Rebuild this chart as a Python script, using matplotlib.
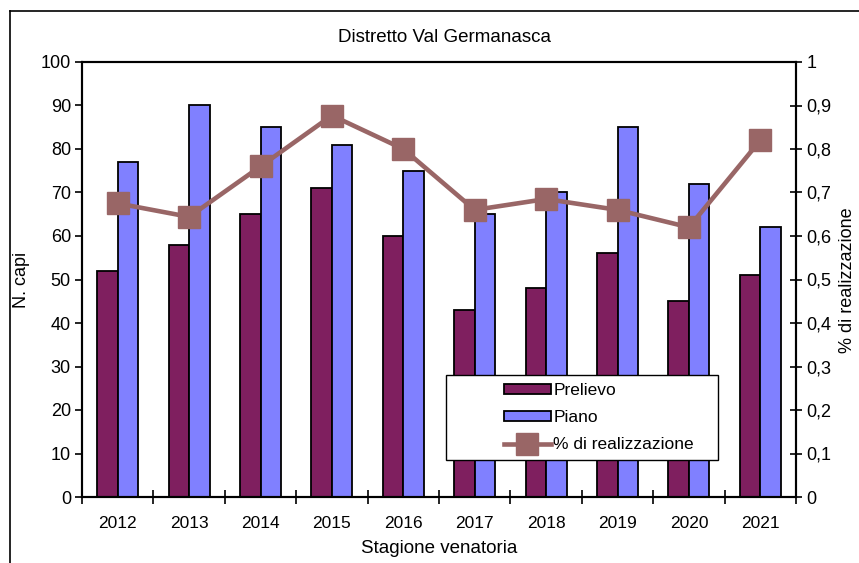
import matplotlib
matplotlib.use("Agg")
import matplotlib.pyplot as plt
import numpy as np
from matplotlib.lines import Line2D
from matplotlib.patches import Rectangle, Patch

plt.rcParams['font.family'] = ['Liberation Sans', 'DejaVu Sans']

years = ['2012', '2013', '2014', '2015', '2016', '2017', '2018', '2019', '2020', '2021']
prelievo = [52, 58, 65, 71, 60, 43, 48, 56, 45, 51]
piano = [77, 90, 85, 81, 75, 65, 70, 85, 72, 62]
realizzazione = [0.675, 0.644, 0.76, 0.877, 0.80, 0.66, 0.685, 0.66, 0.62, 0.82]

c_prel = '#7F1F5F'
c_piano = '#8080FF'
c_line = '#996666'

W, H = 859, 563
fig = plt.figure(figsize=(W / 100, H / 100), dpi=100)

def fx(px):
    return px / W

def fy(py):
    return 1 - py / H

# outer chart border (cropped on right and bottom)
fig.add_artist(Line2D([fx(10), fx(10)], [fy(11), -0.1], color='black', lw=1.2, transform=fig.transFigure))
fig.add_artist(Line2D([fx(10), 1.1], [fy(11), fy(11)], color='black', lw=1.2, transform=fig.transFigure))

left, right, top, bottom = 82, 796, 62, 497
ax = fig.add_axes([fx(left), fy(bottom), (right - left) / W, (bottom - top) / H])

x = np.arange(len(years)) + 0.5
w = 0.286
ax.bar(x - w / 2, prelievo, w, color=c_prel, edgecolor='black', linewidth=1.3, zorder=2)
ax.bar(x + w / 2, piano, w, color=c_piano, edgecolor='black', linewidth=1.3, zorder=2)

ax.set_xlim(0, len(years))
ax.set_ylim(0, 100)
ax.set_yticks(np.arange(0, 101, 10))
ax.set_xticks(np.arange(0, len(years) + 1))
ax.set_xticklabels([])
ax.set_xticks(x, minor=True)
ax.set_xticklabels(years, minor=True, fontsize=12.5)
ax.tick_params(axis='x', which='minor', length=0, pad=14)
ax.tick_params(axis='x', which='major', direction='inout', length=10, width=1.2)
ax.tick_params(axis='y', direction='out', length=5, width=1.2, labelsize=13, pad=3)
for s in ax.spines.values():
    s.set_linewidth(1.5)
ax.set_ylabel('N. capi', fontsize=13, labelpad=8)
ax.set_xlabel('Stagione venatoria', fontsize=13.5, labelpad=6)

ax2 = ax.twinx()
ax2.plot(x, realizzazione, color=c_line, lw=3.3, marker='s', markersize=16, zorder=3)
ax2.set_ylim(0, 1)
ax2.set_yticks(np.arange(0, 1.01, 0.1))
ax2.set_yticklabels(['0', '0,1', '0,2', '0,3', '0,4', '0,5', '0,6', '0,7', '0,8', '0,9', '1'])
ax2.tick_params(axis='y', direction='inout', length=9, width=1.2, labelsize=13, pad=3)
for s in ax2.spines.values():
    s.set_linewidth(1.5)

fig.text(fx(445), fy(38), 'Distretto Val Germanasca', ha='center', va='center', fontsize=13.5)
fig.text(fx(848), fy(280), '% di realizzazione', ha='center', va='center', rotation=90, fontsize=13)

# legend
fig.add_artist(Rectangle((fx(446), fy(460)), (718 - 446) / W, (460 - 375) / H,
                         transform=fig.transFigure, facecolor='white', edgecolor='black',
                         lw=1.0, zorder=5))
handles = [Patch(facecolor=c_prel, edgecolor='black', lw=1.3),
           Patch(facecolor=c_piano, edgecolor='black', lw=1.3),
           Line2D([], [], color=c_line, lw=3.3, marker='s', markersize=16)]
labels = ['Prelievo', 'Piano', '% di realizzazione']
leg = fig.legend(handles, labels, loc='upper left', bbox_to_anchor=(fx(497), fy(376)),
                 frameon=False, fontsize=12.5, handlelength=2.7, handleheight=0.5,
                 handletextpad=0.15, labelspacing=0.7, borderaxespad=0)
leg.set_zorder(6)

fig.savefig('out.png', dpi=100)
